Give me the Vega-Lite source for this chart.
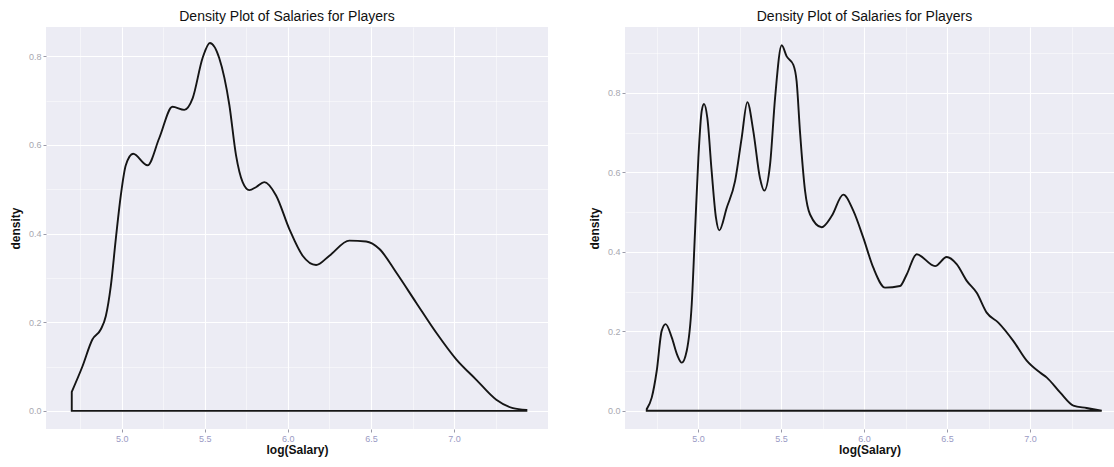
{
  "$schema": "https://vega.github.io/schema/vega-lite/v6.json",
  "background": "white",
  "padding": {"left": 9, "top": 10, "right": 0, "bottom": 8},
  "spacing": 40,
  "datasets": {
    "left": [
      {"logSalary": 4.700, "density": 0.043},
      {"logSalary": 4.764, "density": 0.100},
      {"logSalary": 4.824, "density": 0.161},
      {"logSalary": 4.875, "density": 0.184},
      {"logSalary": 4.905, "density": 0.214},
      {"logSalary": 4.935, "density": 0.282},
      {"logSalary": 4.965, "density": 0.388},
      {"logSalary": 4.995, "density": 0.486},
      {"logSalary": 5.025, "density": 0.554},
      {"logSalary": 5.069, "density": 0.580},
      {"logSalary": 5.156, "density": 0.554},
      {"logSalary": 5.226, "density": 0.615},
      {"logSalary": 5.306, "density": 0.686},
      {"logSalary": 5.377, "density": 0.679},
      {"logSalary": 5.427, "density": 0.705},
      {"logSalary": 5.487, "density": 0.796},
      {"logSalary": 5.531, "density": 0.830},
      {"logSalary": 5.587, "density": 0.796},
      {"logSalary": 5.648, "density": 0.690},
      {"logSalary": 5.688, "density": 0.577},
      {"logSalary": 5.728, "density": 0.516},
      {"logSalary": 5.768, "density": 0.498},
      {"logSalary": 5.810, "density": 0.505},
      {"logSalary": 5.858, "density": 0.516},
      {"logSalary": 5.929, "density": 0.486},
      {"logSalary": 6.009, "density": 0.410},
      {"logSalary": 6.089, "density": 0.350},
      {"logSalary": 6.170, "density": 0.329},
      {"logSalary": 6.250, "density": 0.350},
      {"logSalary": 6.370, "density": 0.384},
      {"logSalary": 6.471, "density": 0.382},
      {"logSalary": 6.551, "density": 0.365},
      {"logSalary": 6.652, "density": 0.312},
      {"logSalary": 6.772, "density": 0.244},
      {"logSalary": 6.893, "density": 0.176},
      {"logSalary": 7.013, "density": 0.116},
      {"logSalary": 7.134, "density": 0.070},
      {"logSalary": 7.254, "density": 0.025},
      {"logSalary": 7.354, "density": 0.006},
      {"logSalary": 7.435, "density": 0.002}
    ],
    "right": [
      {"logSalary": 4.691, "density": 0.004},
      {"logSalary": 4.721, "density": 0.033},
      {"logSalary": 4.751, "density": 0.100},
      {"logSalary": 4.781, "density": 0.201},
      {"logSalary": 4.805, "density": 0.218},
      {"logSalary": 4.842, "density": 0.184},
      {"logSalary": 4.875, "density": 0.140},
      {"logSalary": 4.902, "density": 0.121},
      {"logSalary": 4.932, "density": 0.151},
      {"logSalary": 4.962, "density": 0.268},
      {"logSalary": 4.982, "density": 0.452},
      {"logSalary": 5.002, "density": 0.636},
      {"logSalary": 5.022, "density": 0.754},
      {"logSalary": 5.036, "density": 0.772},
      {"logSalary": 5.056, "density": 0.737},
      {"logSalary": 5.082, "density": 0.603},
      {"logSalary": 5.108, "density": 0.486},
      {"logSalary": 5.128, "density": 0.454},
      {"logSalary": 5.173, "density": 0.511},
      {"logSalary": 5.223, "density": 0.578},
      {"logSalary": 5.263, "density": 0.687},
      {"logSalary": 5.297, "density": 0.777},
      {"logSalary": 5.333, "density": 0.704},
      {"logSalary": 5.373, "density": 0.586},
      {"logSalary": 5.399, "density": 0.554},
      {"logSalary": 5.434, "density": 0.620},
      {"logSalary": 5.464, "density": 0.787},
      {"logSalary": 5.504, "density": 0.920},
      {"logSalary": 5.534, "density": 0.892},
      {"logSalary": 5.574, "density": 0.871},
      {"logSalary": 5.594, "density": 0.829},
      {"logSalary": 5.614, "density": 0.704},
      {"logSalary": 5.645, "density": 0.553},
      {"logSalary": 5.675, "density": 0.494},
      {"logSalary": 5.745, "density": 0.462},
      {"logSalary": 5.805, "density": 0.490},
      {"logSalary": 5.875, "density": 0.544},
      {"logSalary": 5.936, "density": 0.503},
      {"logSalary": 5.996, "density": 0.435},
      {"logSalary": 6.056, "density": 0.360},
      {"logSalary": 6.127, "density": 0.310},
      {"logSalary": 6.217, "density": 0.314},
      {"logSalary": 6.257, "density": 0.343},
      {"logSalary": 6.317, "density": 0.394},
      {"logSalary": 6.428, "density": 0.364},
      {"logSalary": 6.498, "density": 0.387},
      {"logSalary": 6.558, "density": 0.369},
      {"logSalary": 6.619, "density": 0.327},
      {"logSalary": 6.679, "density": 0.297},
      {"logSalary": 6.739, "density": 0.247},
      {"logSalary": 6.809, "density": 0.222},
      {"logSalary": 6.899, "density": 0.176},
      {"logSalary": 6.980, "density": 0.126},
      {"logSalary": 7.060, "density": 0.096},
      {"logSalary": 7.100, "density": 0.084},
      {"logSalary": 7.181, "density": 0.046},
      {"logSalary": 7.261, "density": 0.013},
      {"logSalary": 7.341, "density": 0.007},
      {"logSalary": 7.432, "density": 0.000}
    ]
  },
  "config": {
    "view": {"stroke": null, "fill": "#ECECF4"},
    "axis": {
      "domain": false,
      "gridColor": "white",
      "tickColor": "#9a9aa8",
      "tickSize": 3,
      "labelFont": "Liberation Sans",
      "labelFontSize": 9,
      "labelPadding": 2,
      "labelOverlap": false,
      "labelFlush": false,
      "titleFont": "Liberation Sans",
      "titleFontSize": 12,
      "titleFontWeight": "bold",
      "titleColor": "#111111"
    },
    "title": {"font": "Liberation Sans", "fontSize": 14, "fontWeight": "normal", "color": "#111111", "anchor": "middle", "offset": 3}
  },
  "hconcat": [
    {
      "title": {"text": "Density Plot of Salaries for Players", "dx": -10},
      "width": 502,
      "height": 402,
      "data": {"name": "left"},
      "mark": {"type": "area", "fillOpacity": 0, "stroke": "#151515", "strokeWidth": 1.9, "interpolate": "monotone"},
      "encoding": {
        "x": {
          "field": "logSalary", "type": "quantitative",
          "scale": {"domain": [4.545, 7.565], "nice": false, "zero": false},
          "axis": {
            "title": "log(Salary)", "titlePadding": 1,
            "values": [4.75, 5, 5.25, 5.5, 5.75, 6, 6.25, 6.5, 6.75, 7, 7.25],
            "labelExpr": "abs(datum.value*2 - round(datum.value*2)) > 0.01 ? '' : format(datum.value, '.1f')",
            "labelColor": "#9a9ac4",
            "gridWidth": {"condition": {"test": "abs(datum.value*2 - round(datum.value*2)) > 0.01", "value": 0.5}, "value": 1.1},
            "tickOpacity": {"condition": {"test": "abs(datum.value*2 - round(datum.value*2)) > 0.01", "value": 0}, "value": 1}
          }
        },
        "y": {
          "field": "density", "type": "quantitative",
          "scale": {"domain": [-0.041, 0.866], "nice": false, "zero": false},
          "axis": {
            "title": "density", "titlePadding": 6,
            "values": [0, 0.1, 0.2, 0.3, 0.4, 0.5, 0.6, 0.7, 0.8],
            "labelExpr": "abs(datum.value*5 - round(datum.value*5)) > 0.01 ? '' : format(datum.value, '.1f')",
            "labelColor": "#a8a8b0",
            "gridWidth": {"condition": {"test": "abs(datum.value*5 - round(datum.value*5)) > 0.01", "value": 0.5}, "value": 1.1},
            "tickOpacity": {"condition": {"test": "abs(datum.value*5 - round(datum.value*5)) > 0.01", "value": 0}, "value": 1}
          }
        },
        "y2": {"datum": 0}
      }
    },
    {
      "title": {"text": "Density Plot of Salaries for Players", "dx": -5},
      "width": 489,
      "height": 402,
      "data": {"name": "right"},
      "mark": {"type": "area", "fillOpacity": 0, "stroke": "#151515", "strokeWidth": 1.9, "interpolate": "monotone"},
      "encoding": {
        "x": {
          "field": "logSalary", "type": "quantitative",
          "scale": {"domain": [4.56, 7.506], "nice": false, "zero": false},
          "axis": {
            "title": "log(Salary)", "titlePadding": 1,
            "values": [4.75, 5, 5.25, 5.5, 5.75, 6, 6.25, 6.5, 6.75, 7, 7.25],
            "labelExpr": "abs(datum.value*2 - round(datum.value*2)) > 0.01 ? '' : format(datum.value, '.1f')",
            "labelColor": "#9a9ac4",
            "gridWidth": {"condition": {"test": "abs(datum.value*2 - round(datum.value*2)) > 0.01", "value": 0.5}, "value": 1.1},
            "tickOpacity": {"condition": {"test": "abs(datum.value*2 - round(datum.value*2)) > 0.01", "value": 0}, "value": 1}
          }
        },
        "y": {
          "field": "density", "type": "quantitative",
          "scale": {"domain": [-0.046, 0.966], "nice": false, "zero": false},
          "axis": {
            "title": "density", "titlePadding": 6,
            "values": [0, 0.1, 0.2, 0.3, 0.4, 0.5, 0.6, 0.7, 0.8, 0.9],
            "labelExpr": "abs(datum.value*5 - round(datum.value*5)) > 0.01 ? '' : format(datum.value, '.1f')",
            "labelColor": "#a8a8b0",
            "gridWidth": {"condition": {"test": "abs(datum.value*5 - round(datum.value*5)) > 0.01", "value": 0.5}, "value": 1.1},
            "tickOpacity": {"condition": {"test": "abs(datum.value*5 - round(datum.value*5)) > 0.01", "value": 0}, "value": 1}
          }
        },
        "y2": {"datum": 0}
      }
    }
  ]
}
